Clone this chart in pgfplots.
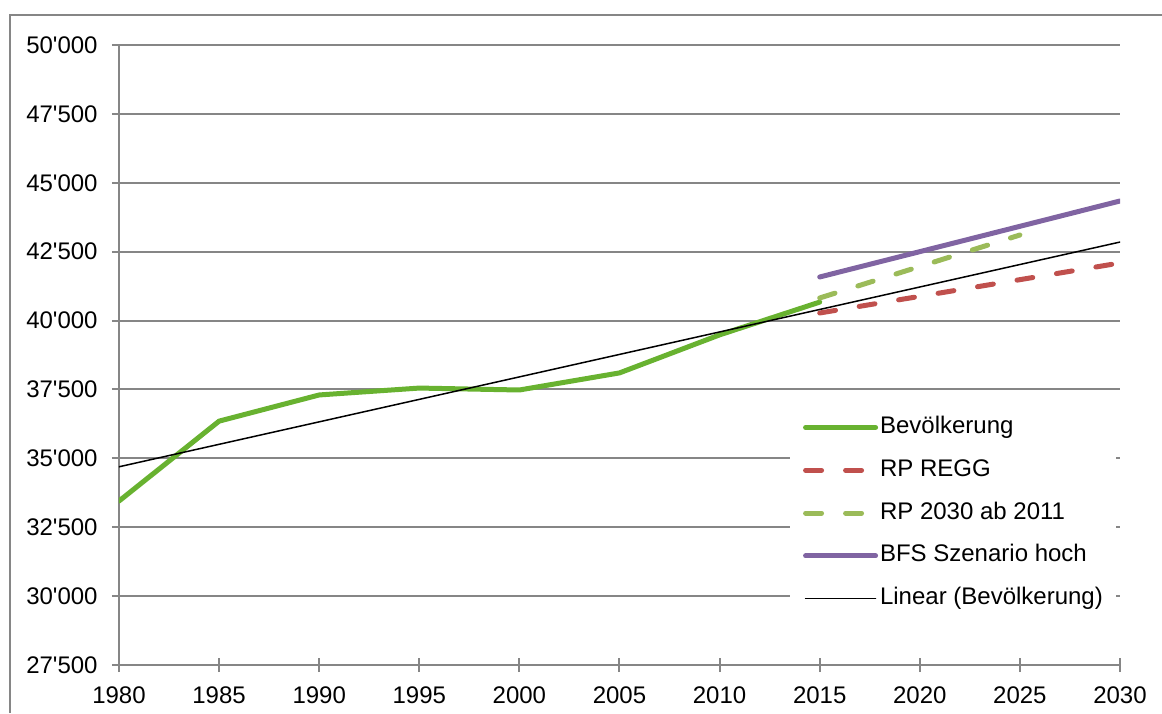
\documentclass[border=0pt]{standalone}
\usepackage{fontspec}
\setmainfont{Liberation Sans}[Ligatures=TeXOff]
\usepackage{pgfplots}
\pgfplotsset{compat=1.18}
\definecolor{gridgray}{RGB}{134,134,134}
\definecolor{popgreen}{RGB}{104,178,48}
\definecolor{regred}{RGB}{192,80,77}
\definecolor{lightgreen}{RGB}{155,187,89}
\definecolor{bfspurple}{RGB}{128,100,162}
\begin{document}
\begin{tikzpicture}
\useasboundingbox (0,0) rectangle (581pt,356.5pt);
\draw[gridgray, line width=1pt] (5pt,0) -- (5pt,349pt) -- (581pt,349pt);
\begin{axis}[
  at={(59.5pt,24pt)}, anchor=south west,
  width=500.5pt, height=310pt, scale only axis,
  xmin=1980, xmax=2030, ymin=27500, ymax=50000,
  xtick={1980,1985,...,2030},
  ytick={27500,30000,...,50000},
  scaled ticks=false,
  axis x line=bottom, axis y line=left,
  axis line style={-, draw=gridgray, line width=1pt},
  tick style={draw=gridgray, line width=1pt},
  tick align=center, major tick length=7pt,
  ymajorgrids, grid style={draw=gridgray, line width=1pt},
  /pgf/number format/assume math mode=true,
  tick label style={font=\fontsize{12}{14}\selectfont, inner sep=0pt},
  x tick label style={/pgf/number format/.cd, 1000 sep={}, /tikz/.cd, anchor=north, yshift=-7pt},
  y tick label style={/pgf/number format/.cd, fixed, 1000 sep={'}, /tikz/.cd, anchor=east, xshift=-7pt},
  legend cell align=left,
  legend style={draw=none, fill=white, at={(0.670,0.416)}, anchor=north west,
    inner xsep=6.5pt, inner ysep=4pt, row sep=9.4pt,
    font=\fontsize{12}{14}\selectfont,
    nodes={inner sep=0pt, text height=9pt, text depth=3pt},
    /tikz/every odd column/.append style={column sep=1pt}},
  legend image code/.code={\draw[#1] (0pt,0pt) -- (35pt,0pt);},
  every axis plot/.append style={line cap=round, line join=round},
]
\addplot[popgreen, line width=2.5pt] coordinates {
  (1980,33450) (1985,36350) (1990,37300) (1995,37550)
  (2000,37480) (2005,38100) (2010,39480) (2015,40670)};
\addlegendentry{Bevölkerung}
\addplot[regred, line width=2.5pt, dash pattern=on 8pt off 12pt] coordinates {
  (2015,40274) (2030,42089)};
\addlegendentry{RP REGG}
\addplot[lightgreen, line width=2.5pt, dash pattern=on 8pt off 12pt] coordinates {
  (2015,40819) (2025,43105)};
\addlegendentry{RP 2030 ab 2011}
\addplot[bfspurple, line width=2.5pt] coordinates {
  (2015,41581) (2030,44339)};
\addlegendentry{BFS Szenario hoch}
\addplot[black, line width=0.75pt] coordinates {
  (1980,34693) (2030,42849)};
\addlegendentry{Linear (Bevölkerung)}
\end{axis}
\end{tikzpicture}
\end{document}
